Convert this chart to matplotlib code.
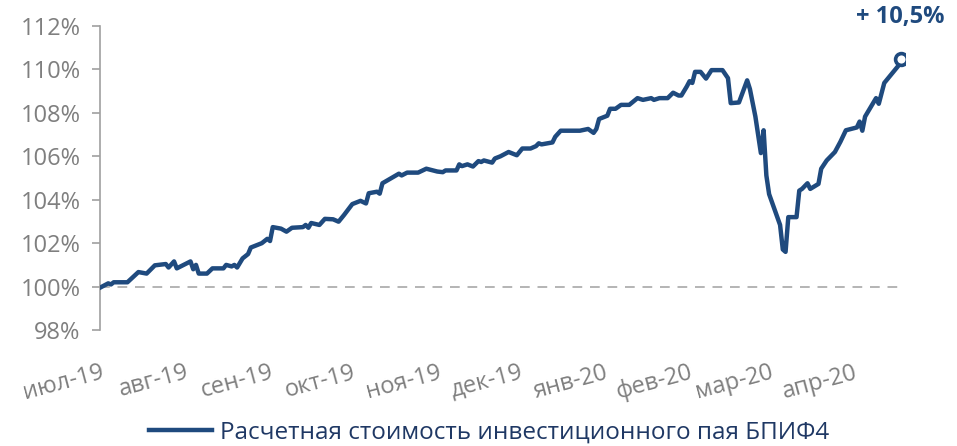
import datetime

import matplotlib
matplotlib.use("Agg")
import matplotlib.pyplot as plt
import matplotlib.dates as mdates
from matplotlib.ticker import FixedLocator, FuncFormatter

plt.rcParams["font.family"] = ["Open Sans", "DejaVu Sans"]

# values (trading days, % of start value)
dates = [
    "2019-07-01", "2019-07-04", "2019-07-05", "2019-07-06", "2019-07-11",
    "2019-07-15", "2019-07-18", "2019-07-21", "2019-07-25", "2019-07-26",
    "2019-07-28", "2019-07-29", "2019-08-03", "2019-08-04", "2019-08-05",
    "2019-08-06", "2019-08-09", "2019-08-11", "2019-08-15", "2019-08-16",
    "2019-08-18", "2019-08-19", "2019-08-20", "2019-08-22", "2019-08-24",
    "2019-08-25", "2019-08-29", "2019-08-31", "2019-09-01", "2019-09-02",
    "2019-09-05", "2019-09-07", "2019-09-09", "2019-09-13", "2019-09-14",
    "2019-09-15", "2019-09-16", "2019-09-19", "2019-09-21", "2019-09-24",
    "2019-09-26", "2019-09-28", "2019-10-01", "2019-10-04", "2019-10-06",
    "2019-10-07", "2019-10-10", "2019-10-11", "2019-10-12", "2019-10-15",
    "2019-10-18", "2019-10-19", "2019-10-21", "2019-10-25", "2019-10-28",
    "2019-11-01", "2019-11-03", "2019-11-04", "2019-11-08", "2019-11-09",
    "2019-11-10", "2019-11-12", "2019-11-14", "2019-11-16", "2019-11-17",
    "2019-11-18", "2019-11-21", "2019-11-22", "2019-11-24", "2019-11-27",
    "2019-11-30", "2019-12-02", "2019-12-05", "2019-12-07", "2019-12-08",
    "2019-12-09", "2019-12-13", "2019-12-14", "2019-12-16", "2019-12-23",
    "2019-12-26", "2019-12-28", "2019-12-29", "2019-12-30", "2020-01-02",
    "2020-01-03", "2020-01-05", "2020-01-07", "2020-01-10", "2020-01-13",
    "2020-01-15", "2020-01-18", "2020-01-19", "2020-01-21", "2020-01-24",
    "2020-01-26", "2020-01-28", "2020-01-29", "2020-01-31", "2020-02-01",
    "2020-02-02", "2020-02-03", "2020-02-05", "2020-02-07", "2020-02-09",
    "2020-02-13", "2020-02-15", "2020-02-16", "2020-02-19", "2020-02-22",
    "2020-02-23", "2020-02-25", "2020-02-27", "2020-02-28", "2020-02-29",
    "2020-03-01", "2020-03-05", "2020-03-06", "2020-03-07", "2020-03-08",
    "2020-03-11", "2020-03-12", "2020-03-13", "2020-03-15", "2020-03-16",
    "2020-03-19", "2020-03-20", "2020-03-22", "2020-03-25", "2020-03-27",
    "2020-03-29", "2020-04-02", "2020-04-03", "2020-04-04", "2020-04-05",
    "2020-04-09", "2020-04-10", "2020-04-12", "2020-04-17", "2020-04-18",
]
values = [
    99.95, 100.15, 100.10, 100.20, 100.20,
    100.67, 100.60, 100.98, 101.04, 100.88,
    101.16, 100.84, 101.16, 100.80, 101.00,
    100.60, 100.60, 100.84, 100.84, 101.00,
    100.93, 101.00, 100.88, 101.30, 101.50,
    101.80, 102.00, 102.20, 102.10, 102.74,
    102.67, 102.53, 102.71, 102.74, 102.84,
    102.71, 102.93, 102.84, 103.12, 103.10,
    102.99, 103.30, 103.80, 103.95, 103.83,
    104.30, 104.37, 104.28, 104.76, 104.98,
    105.20, 105.12, 105.25, 105.25, 105.43,
    105.30, 105.27, 105.35, 105.35, 105.63,
    105.55, 105.63, 105.53, 105.78, 105.74,
    105.81, 105.71, 105.90, 106.00, 106.20,
    106.05, 106.36, 106.36, 106.47, 106.60,
    106.55, 106.64, 106.90, 107.18, 107.18,
    107.26, 107.08, 107.26, 107.72, 107.87,
    108.19, 108.19, 108.37, 108.37, 108.68,
    108.60, 108.68, 108.60, 108.68, 108.68,
    108.93, 108.80, 108.80, 109.22, 109.46,
    109.38, 109.89, 109.89, 109.58, 109.97,
    109.97, 109.60, 108.45, 108.48, 109.50,
    109.10, 107.83, 106.15, 107.20, 105.12,
    104.26, 102.84, 101.71, 101.60, 103.20,
    103.20, 104.42, 104.50, 104.76, 104.50,
    104.73, 105.43, 105.81, 106.20, 106.67,
    107.20, 107.33, 107.60, 107.18, 107.83,
    108.68, 108.42, 109.38, 110.15, 110.50,
]
month_labels = ["июл-19", "авг-19", "сен-19", "окт-19", "ноя-19",
                "дек-19", "янв-20", "фев-20", "мар-20", "апр-20"]
month_starts = ["2019-07-01", "2019-08-01", "2019-09-01", "2019-10-01", "2019-11-01",
                "2019-12-01", "2020-01-01", "2020-02-01", "2020-03-01", "2020-04-01"]
y_ticks = [98, 100, 102, 104, 106, 108, 110, 112]
series_name = "Расчетная стоимость инвестиционного пая БПИФ4"
final_label = "+ 10,5%"

line_color = "#1F4A7E"
grey = "#7F7F7F"

x = [datetime.datetime.strptime(d, "%Y-%m-%d") for d in dates]
ticks = [mdates.date2num(datetime.datetime.strptime(d, "%Y-%m-%d")) for d in month_starts]

fig = plt.figure(figsize=(9.57, 4.46), dpi=100)
ax = fig.add_axes([0.1045, 0.26, 0.841, 0.6816])

ax.axhline(100, color="#B4B4B4", lw=1.4, ls=(0, (5, 4)), zorder=1)
ax.plot(x, values, color=line_color, lw=3.2, solid_joinstyle="round",
        label=series_name, zorder=3)
ax.plot(x[-1], values[-1], "o", ms=8.5, mfc="white", mec=line_color, mew=2.6, zorder=4)
ax.annotate(final_label, (x[-1], values[-1]), xytext=(0, 30), textcoords="offset points",
            ha="center", va="center", fontsize=17, fontweight="bold", color=line_color)

ax.set_ylim(98, 112)
ax.set_xlim(mdates.date2num(datetime.datetime(2019, 7, 1)),
            mdates.date2num(datetime.datetime(2020, 4, 19, 12)))
ax.set_yticks(y_ticks)
ax.yaxis.set_major_formatter(FuncFormatter(lambda v, p: f"{v:.0f}%"))
ax.xaxis.set_major_locator(FixedLocator(ticks))
ax.set_xticklabels(month_labels, rotation=15, ha="right", va="top", rotation_mode="anchor")

for s in ["top", "right", "bottom"]:
    ax.spines[s].set_visible(False)
ax.spines["left"].set_color("#A0A0A0")
ax.spines["left"].set_linewidth(1.2)
ax.tick_params(axis="y", direction="out", length=6, width=1.2, color="#A0A0A0",
               labelsize=17, labelcolor=grey, pad=8)
ax.tick_params(axis="x", length=0, labelsize=17, labelcolor=grey, pad=22)

fig.legend(loc="center", bbox_to_anchor=(0.511, 0.031), frameon=False,
           fontsize=17.5, labelcolor="#1F3864", handlelength=2.6, handletextpad=0.3)

fig.savefig("out.png", dpi=100)
